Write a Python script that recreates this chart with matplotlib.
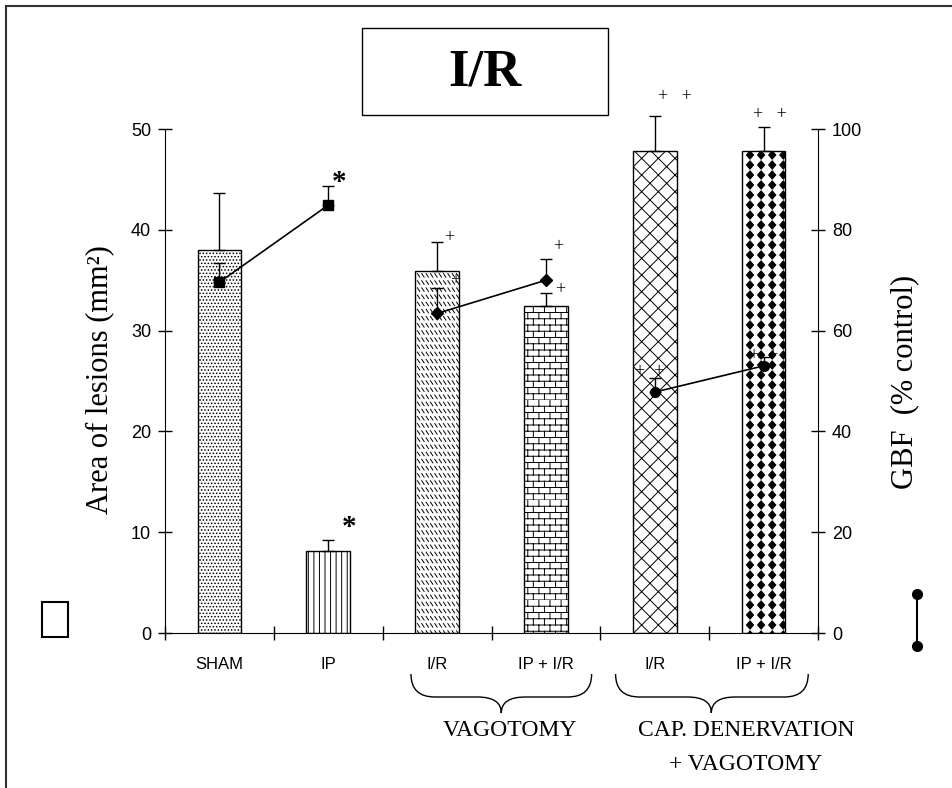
import warnings
import numpy as np
import matplotlib
matplotlib.use('Agg')
import matplotlib.pyplot as plt
import matplotlib.hatch as mhatch
from matplotlib.path import Path
from matplotlib.patches import Rectangle, PathPatch
from matplotlib.lines import Line2D
from matplotlib.transforms import blended_transform_factory

warnings.filterwarnings('ignore')

groups = ['SHAM', 'IP', 'I/R', 'IP + I/R', 'I/R', 'IP + I/R']
lesion_area = [38.0, 8.1, 35.9, 32.4, 47.8, 47.8]
lesion_err = [5.7, 1.1, 2.9, 1.3, 3.5, 2.4]
gbf = [69.6, 84.9, 63.4, 70.0, 47.8, 53.0]
gbf_err = [3.8, 3.8, 5.0, 4.2, 2.8, 1.8]
gbf_pairs = [(0, 1), (2, 3), (4, 5)]
gbf_markers = ['s', 'D', 'o']
bar_hatches = ['.....', '|||', 'r', 'b', 'xx', 'd']
bar_marks = ['', '*', '+', '+', '+   +', '+   +']
gbf_marks = ['', '*', '+', '+', '+  +', '+  +']


# extra hatch patterns: short dashes, bricks, filled diamonds
class SegHatch(mhatch.HatchPatternBase):
    char = ''
    def __init__(self, hatch, density):
        if hatch.count(self.char):
            self.segs = np.array(self.make(), dtype=float)
        else:
            self.segs = np.empty((0, 2, 2))
        self.num_vertices = len(self.segs) * 2

    def set_vertices_and_codes(self, vertices, codes):
        vertices[:] = self.segs.reshape(-1, 2)
        codes[0::2] = Path.MOVETO
        codes[1::2] = Path.LINETO


class DashHatch(SegHatch):
    char = 'r'
    def make(self):
        rows, cols = 14, 23
        out = []
        for i in range(rows):
            for j in range(cols):
                x, y = j / cols, i / rows
                out.append([[x, y + 0.7 / rows], [x + 0.55 / cols, y + 0.2 / rows]])
        return out


class BrickHatch(SegHatch):
    char = 'b'
    def make(self):
        rows, cols = 16, 9
        out = []
        for i in range(rows):
            y0, y1 = i / rows, (i + 1) / rows
            out.append([[0, y0], [1, y0]])
            for j in range(cols):
                x = (j + 0.5 * (i % 2)) / cols
                out.append([[x, y0], [x, y1]])
        return out


class DiamondHatch(mhatch.HatchPatternBase):
    def __init__(self, hatch, density):
        self.on = hatch.count('d') > 0
        self.rows, self.cols = 10, 9
        self.num_vertices = self.rows * self.cols * 5 if self.on else 0

    def set_vertices_and_codes(self, vertices, codes):
        shape = np.array([[0, 1], [-1, 0], [0, -1], [1, 0], [0, 1]], dtype=float)
        shape *= [0.036, 0.042]
        k = 0
        for i in range(self.rows):
            for j in range(self.cols):
                c = [(j + 0.5) / self.cols, (i + 0.5) / self.rows]
                vertices[k:k + 5] = shape + c
                codes[k:k + 5] = [Path.MOVETO, Path.LINETO, Path.LINETO,
                                  Path.LINETO, Path.CLOSEPOLY]
                k += 5


mhatch._hatch_types.extend([DashHatch, BrickHatch, DiamondHatch])

plt.rcParams['hatch.linewidth'] = 0.7
plt.rcParams['font.family'] = ['Liberation Sans', 'DejaVu Sans']

W, H = 952, 788
fig = plt.figure(figsize=(W / 100, H / 100), dpi=100)
ax = fig.add_axes([165 / W, 1 - 633 / H, (818 - 165) / W, (633 - 129) / H])
ax2 = ax.twinx()

x = np.arange(len(groups))
for i in x:
    ax.bar(x[i], lesion_area[i], width=0.4, color='white', edgecolor='black',
           linewidth=1.0, hatch=bar_hatches[i], zorder=2)
ax.errorbar(x, lesion_area, yerr=[np.zeros(len(x)), lesion_err], fmt='none',
            ecolor='black', elinewidth=1.0, capsize=4, capthick=1.0,
            zorder=3, clip_on=False)

ax.set_xlim(-0.5, 5.5)
ax.set_ylim(0, 50)
ax.set_yticks(range(0, 51, 10))
ax.set_xticks(np.arange(-0.5, 6, 1))
ax.set_xticklabels([])
ax.set_xticks(x, minor=True)
ax.set_xticklabels(groups, minor=True, fontsize=12)
ax.tick_params(axis='x', which='minor', length=0, pad=17)
ax.tick_params(axis='x', which='major', direction='inout', length=10, width=1)
ax.tick_params(axis='y', direction='inout', length=10, width=1, labelsize=13, pad=5)
ax.spines['top'].set_visible(False)
ax.spines['right'].set_visible(False)

ax2.set_ylim(0, 100)
ax2.set_yticks(range(0, 101, 20))
ax2.tick_params(axis='y', direction='inout', length=10, width=1, labelsize=13, pad=5)
for s in ['top', 'left', 'bottom']:
    ax2.spines[s].set_visible(False)

for (a, b), m in zip(gbf_pairs, gbf_markers):
    ax2.plot([x[a], x[b]], [gbf[a], gbf[b]], color='black', lw=1.2,
             marker=m, ms=7 if m != 'D' else 6, zorder=4)
ax2.errorbar(x, gbf, yerr=[np.zeros(len(x)), gbf_err], fmt='none',
             ecolor='black', elinewidth=1.0, capsize=4, capthick=1.0, zorder=4)

# significance marks (offsets in pixels from error bar tops)
bar_off = [(0, 0), (21, 13), (12, 4), (14, 4), (20, 19), (6, 12)]
gbf_off = [(0, 0), (11, 3), (18, 8), (12, 12), (-5, 6), (0, 1)]
for i in x:
    for mark, off, vals, errs, a in [(bar_marks[i], bar_off[i], lesion_area, lesion_err, ax),
                                     (gbf_marks[i], gbf_off[i], gbf, gbf_err, ax2)]:
        if not mark:
            continue
        big = mark == '*'
        a.annotate(mark, xy=(x[i], vals[i] + errs[i]), xytext=off,
                   textcoords='offset pixels', ha='center', va='center',
                   fontsize=21 if big else 13, family='Liberation Serif',
                   fontweight='bold' if big else 'normal', annotation_clip=False,
                   zorder=5)

# axis titles
fig.text(100 / W, 1 - 380 / H, 'Area of lesions (mm²)', rotation=90,
         ha='center', va='center', fontsize=22, family='Liberation Serif')
fig.text(905 / W, 1 - 382 / H, 'GBF  (% control)', rotation=90,
         ha='center', va='center', fontsize=22, family='Liberation Serif')

# title box
fig.patches.append(Rectangle((362 / W, 1 - 115 / H), 246 / W, 87 / H, fill=False,
                             lw=1.0, edgecolor='black', transform=fig.transFigure))
fig.text(485 / W, 1 - 72 / H, 'I/R', ha='center', va='center', fontsize=38,
         fontweight='bold', family='Liberation Serif')

# outer frame
fig.patches.append(Rectangle((6 / W, -0.1), 1.2, 1.1 - 6 / H, fill=False,
                             lw=1.5, edgecolor='#333333', transform=fig.transFigure))

# legend keys
fig.patches.append(Rectangle((42 / W, 1 - 637 / H), 26 / W, 35 / H, fill=False,
                             lw=1.5, edgecolor='black', transform=fig.transFigure))
fig.lines.append(Line2D([917 / W, 917 / W], [1 - 594 / H, 1 - 646 / H], color='black',
                        lw=1.5, marker='o', ms=7, transform=fig.transFigure))

# group braces
tr = blended_transform_factory(ax.transData, fig.transFigure)


def brace(x0, x1, xc):
    yt, ym, yb = 1 - 674 / H, 1 - 697 / H, 1 - 713 / H
    r = 0.22
    verts = [(x0, yt), (x0, ym), (x0 + r, ym), (xc - r, ym), (xc, ym), (xc, yb),
             (xc, ym), (xc + r, ym), (x1 - r, ym), (x1, ym), (x1, yt)]
    codes = [Path.MOVETO, Path.CURVE3, Path.CURVE3, Path.LINETO, Path.CURVE3, Path.CURVE3,
             Path.CURVE3, Path.CURVE3, Path.LINETO, Path.CURVE3, Path.CURVE3]
    fig.patches.append(PathPatch(Path(verts, codes), fill=False, lw=1.0,
                                 edgecolor='black', transform=tr))


brace(1.76, 3.42, 2.59)
brace(3.64, 5.41, 4.52)
fig.text(510 / W, 1 - 731 / H, 'VAGOTOMY', ha='center', va='center',
         fontsize=17, family='Liberation Serif')
fig.text(746 / W, 1 - 731 / H, 'CAP. DENERVATION', ha='center', va='center',
         fontsize=17, family='Liberation Serif')
fig.text(746 / W, 1 - 765 / H, '+ VAGOTOMY', ha='center', va='center',
         fontsize=17, family='Liberation Serif')

fig.savefig('out.png', dpi=100)
